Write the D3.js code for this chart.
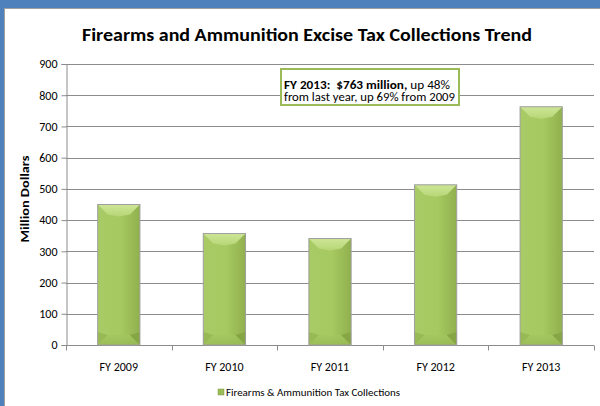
<!DOCTYPE html>
<html>
<head>
<meta charset="utf-8">
<script src="https://cdn.jsdelivr.net/npm/d3@7"></script>
<style>
  html, body { margin: 0; padding: 0; background: #fff; }
  svg { display: block; }
  text { font-family: Carlito, Calibri, "Liberation Sans Narrow", "Open Sans", sans-serif; }
</style>
</head>
<body>
<svg id="chart" width="600" height="406"></svg>
<script>
// Firearms and ammunition excise tax collections, million dollars
const categories = ["FY 2009", "FY 2010", "FY 2011", "FY 2012", "FY 2013"];
const collections = [450, 357, 341, 513, 763];
const yTicks = [0, 100, 200, 300, 400, 500, 600, 700, 800, 900];
const seriesName = "Firearms & Ammunition Tax Collections";
const chartTitle = "Firearms and Ammunition Excise Tax Collections Trend";
const yAxisTitle = "Million Dollars";
const noteBold = "FY 2013:\u00a0 $763 million,";
const noteRest = " up 48%";
const noteLine2 = "from last year, up 69% from 2009";

const W = 600, H = 406;
const FONT = 'Carlito, Calibri, "Liberation Sans Narrow", "Open Sans", sans-serif';
const svg = d3.select("#chart");

// frame: blue band on top and left with a thin grey inner edge
svg.append("rect").attr("x", 0).attr("y", 0).attr("width", W).attr("height", H).attr("fill", "#4f81bd");
svg.append("rect").attr("x", 4).attr("y", 8).attr("width", W - 4).attr("height", H - 8).attr("fill", "#a0a0a0");
svg.append("rect").attr("x", 5).attr("y", 9).attr("width", W - 5).attr("height", H - 9).attr("fill", "#ffffff");

const plot = { left: 66, right: 594, top: 64, bottom: 345 };

const x = d3.scaleBand().domain(categories).range([plot.left, plot.right]).paddingInner(0.6).paddingOuter(0.3);
const xb = d3.scaleBand().domain(categories).range([plot.left, plot.right]);
const y = d3.scaleLinear().domain([0, 900]).range([plot.bottom, plot.top]);

// title
svg.append("text")
  .attr("x", 307).attr("y", 41)
  .attr("text-anchor", "middle")
  .attr("font-size", 19).attr("font-weight", "bold").attr("fill", "#000")
  .attr("textLength", 450).attr("lengthAdjust", "spacingAndGlyphs")
  .text(chartTitle);

// gridlines
svg.append("g")
  .selectAll("line")
  .data(yTicks.filter(d => d > 0))
  .join("line")
  .attr("x1", plot.left).attr("x2", plot.right)
  .attr("y1", d => Math.round(y(d)) + 0.5).attr("y2", d => Math.round(y(d)) + 0.5)
  .attr("stroke", "#8c8c8c").attr("stroke-width", 1);

// y axis
const yAxis = svg.append("g")
  .attr("transform", `translate(${plot.left + 0.5},0)`)
  .call(d3.axisLeft(y).tickValues(yTicks).tickSize(5).tickPadding(4).tickFormat(d3.format("d")));
yAxis.select(".domain").attr("stroke", "#8c8c8c");
yAxis.selectAll(".tick line").attr("stroke", "#8c8c8c");
yAxis.selectAll(".tick text").attr("font-size", 12).attr("fill", "#000").attr("font-family", FONT);

// x axis with ticks at category boundaries
const xAxisG = svg.append("g").attr("transform", `translate(0,${Math.round(plot.bottom) + 0.5})`);
xAxisG.append("line").attr("x1", plot.left).attr("x2", plot.right).attr("stroke", "#8c8c8c");
const bounds = categories.map(c => xb(c)).concat([plot.right]);
xAxisG.selectAll("line.tk").data(bounds).join("line").attr("class", "tk")
  .attr("x1", d => Math.round(d) + 0.5).attr("x2", d => Math.round(d) + 0.5)
  .attr("y1", 0).attr("y2", 5).attr("stroke", "#8c8c8c");
xAxisG.selectAll("text").data(categories).join("text")
  .attr("x", d => xb(d) + xb.bandwidth() / 2).attr("y", 25)
  .attr("text-anchor", "middle").attr("font-size", 12).attr("fill", "#000")
  .text(d => d);

// y axis title
svg.append("text")
  .attr("transform", "translate(29,199) rotate(-90)")
  .attr("text-anchor", "middle").attr("font-size", 11.5).attr("font-weight", "bold")
  .attr("textLength", 87).attr("lengthAdjust", "spacingAndGlyphs")
  .text(yAxisTitle);

// bar gradients
const defs = svg.append("defs");
const body = defs.append("linearGradient").attr("id", "barBody").attr("x1", "0").attr("x2", "1").attr("y1", "0").attr("y2", "0");
body.append("stop").attr("offset", "0").attr("stop-color", "#a9cb66");
body.append("stop").attr("offset", "0.55").attr("stop-color", "#a6c961");
body.append("stop").attr("offset", "1").attr("stop-color", "#90b04d");
const topG = defs.append("linearGradient").attr("id", "barTop").attr("x1", "0").attr("x2", "0").attr("y1", "0").attr("y2", "1");
topG.append("stop").attr("offset", "0").attr("stop-color", "#cde697");
topG.append("stop").attr("offset", "1").attr("stop-color", "#b7d676");
const botG = defs.append("linearGradient").attr("id", "barBot").attr("x1", "0").attr("x2", "0").attr("y1", "0").attr("y2", "1");
botG.append("stop").attr("offset", "0").attr("stop-color", "#a5c760");
botG.append("stop").attr("offset", "1").attr("stop-color", "#98ba55");

const bars = svg.append("g").selectAll("g").data(categories.map((c, i) => ({ c, v: collections[i] }))).join("g");
bars.each(function (d) {
  const g = d3.select(this);
  const x0 = x(d.c), x1 = x0 + x.bandwidth(), y0 = y(d.v), y1 = y(0);
  const xc = (x0 + x1) / 2, b = 10;
  g.append("rect").attr("x", x0).attr("y", y0).attr("width", x1 - x0).attr("height", y1 - y0).attr("fill", "url(#barBody)");
  // top bevel: lighter V
  g.append("path").attr("d", `M${x0},${y0}L${x1},${y0}L${x1 - b},${y0 + b}L${xc},${y0 + b + 2}L${x0 + b},${y0 + b}Z`)
    .attr("fill", "url(#barTop)");
  // bottom bevel: soft, with darker corner wedges
  g.append("path").attr("d", `M${x0},${y1}L${x1},${y1}L${x1 - b},${y1 - b}L${x0 + b},${y1 - b}Z`)
    .attr("fill", "url(#barBot)").attr("opacity", 0.8);
  g.append("path").attr("d", `M${x0},${y1}L${x0 + b},${y1 - b}L${x0},${y1 - b - 3}Z`).attr("fill", "#98b955");
  g.append("path").attr("d", `M${x1},${y1}L${x1 - b},${y1 - b}L${x1},${y1 - b - 3}Z`).attr("fill", "#86a645");
  g.append("rect").attr("x", x0).attr("y", y0).attr("width", x1 - x0).attr("height", y1 - y0)
    .attr("fill", "none").attr("stroke", "#9f9f9f").attr("stroke-width", 1);
});

// annotation box
const note = svg.append("g");
note.append("rect").attr("x", 281).attr("y", 69).attr("width", 178).attr("height", 36)
  .attr("fill", "#fff").attr("stroke", "#9bbb59").attr("stroke-width", 2);
const t1 = note.append("text").attr("x", 284).attr("y", 88.5).attr("font-size", 12).attr("fill", "#000")
  .attr("textLength", 166).attr("lengthAdjust", "spacingAndGlyphs");
t1.append("tspan").attr("font-weight", "bold").text(noteBold);
t1.append("tspan").text(noteRest);
note.append("text").attr("x", 284).attr("y", 101).attr("font-size", 12).attr("fill", "#000")
  .attr("textLength", 171).attr("lengthAdjust", "spacingAndGlyphs")
  .text(noteLine2);

// legend
const lg = svg.append("g");
lg.append("rect").attr("x", 218).attr("y", 389).attr("width", 6).attr("height", 6)
  .attr("fill", "#9bbb59").attr("stroke", "#7f9e3f").attr("stroke-width", 0.5);
lg.append("text").attr("x", 226).attr("y", 396).attr("font-size", 10.5).attr("fill", "#000")
  .attr("textLength", 174).attr("lengthAdjust", "spacingAndGlyphs")
  .text(seriesName);
</script>
</body>
</html>
